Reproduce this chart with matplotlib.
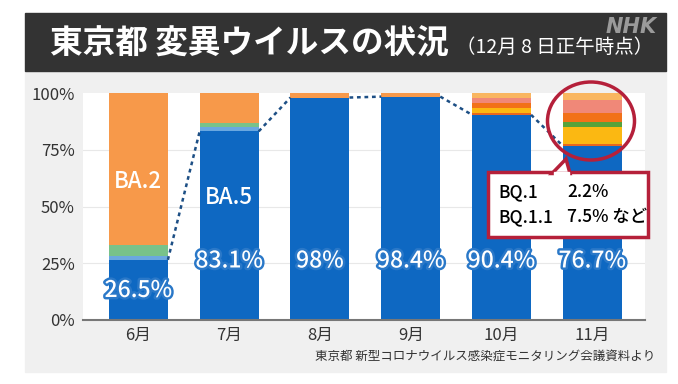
import numpy as np
import matplotlib.pyplot as plt
import matplotlib.patheffects as pe
from matplotlib.patches import Rectangle, Ellipse, Polygon

plt.rcParams['font.family'] = ['Noto Sans CJK JP', 'DejaVu Sans']

months = ["6月", "7月", "8月", "9月", "10月", "11月"]
ba5 = [26.5, 83.1, 98.0, 98.4, 90.4, 76.7]
ba5_labels = ["26.5%", "83.1%", "98%", "98.4%", "90.4%", "76.7%"]
# other lineages stacked above BA.5
light_blue = [1.5, 2.0, 0, 0, 0, 0]
green = [5.0, 1.5, 0, 0, 0, 0]
ba2 = [67.0, 13.4, 2.0, 1.6, 0, 0]
red_orange = [0, 0, 0, 0, 0.6, 0.8]
bq11 = [0, 0, 0, 0, 2.6, 7.5]
bq1 = [0, 0, 0, 0, 0, 2.2]
orange = [0, 0, 0, 0, 2.0, 4.0]
salmon = [0, 0, 0, 0, 2.0, 5.6]
light_orange = [0, 0, 0, 0, 2.4, 3.2]
yticks = [0, 25, 50, 75, 100]

W, H = 678, 384
fig = plt.figure(figsize=(W / 100, H / 100), dpi=100)
fig.patch.set_facecolor("white")

def px(x, y):                      # pixel coords (top-left origin) -> figure coords
    return x / W, 1 - y / H

# gray panel + dark title band
fig.patches.append(Rectangle(px(25, 372), (666 - 25) / W, (372 - 71) / H,
                             transform=fig.transFigure, color="#f0f0f0", zorder=-2))
fig.patches.append(Rectangle(px(25, 71), (666 - 25) / W, (71 - 13) / H,
                             transform=fig.transFigure, color="#333333", zorder=-2))

fig.text(*px(50, 44), "東京都 変異ウイルスの状況", color="white", fontsize=23.5,
         fontweight="bold", va="center", ha="left")
fig.text(*px(456, 47), "（12月 8 日正午時点）", color="white", fontsize=14,
         va="center", ha="left")
fig.text(*px(657, 27), "NHK", color="#9a9a9a", fontsize=15, fontweight="bold",
         fontstyle="italic", va="center", ha="right", family=["DejaVu Sans"])

ax = fig.add_axes([83 / W, 1 - 320 / H, (645 - 83) / W, (320 - 93) / H], zorder=1)
ax.set_facecolor("white")

x = np.arange(len(months))
w = 0.65
layers = [(ba5, "#0e68c2"), (light_blue, "#6aa8e0"), (green, "#78c28a"),
          (ba2, "#f7994a"), (red_orange, "#e8671e"), (bq11, "#fbb812"),
          (bq1, "#56a23a"), (orange, "#f27118"), (salmon, "#f08878"),
          (light_orange, "#f9b660")]
bottom = np.zeros(len(months))
for vals, col in layers:
    ax.bar(x, vals, w, bottom=bottom, color=col, zorder=2)
    bottom += np.array(vals)

# dotted connector between BA.5 tops
for i in range(len(months) - 1):
    ax.plot([x[i] + w / 2, x[i + 1] - w / 2], [ba5[i], ba5[i + 1]],
            ls=(0, (1.5, 1.5)), color="#1d4f85", lw=1.8, zorder=3)

stroke = [pe.withStroke(linewidth=3.5, foreground="#2a78c8")]
for i, lab in enumerate(ba5_labels):
    yy = 13 if i == 0 else 26
    ax.text(x[i], yy, lab, ha="center", va="center", color="white", fontsize=16.5,
            fontweight="medium", path_effects=stroke, zorder=5)
ax.text(x[0], 61, "BA.2", ha="center", va="center", color="white", fontsize=16,
        fontweight="medium", zorder=5)
ax.text(x[1], 54, "BA.5", ha="center", va="center", color="white", fontsize=16,
        fontweight="medium", zorder=5)

ax.set_xlim(-0.61, 5.58)
ax.set_ylim(0, 100)
ax.set_xticks(x)
ax.set_xticklabels(months, fontsize=12, color="#333333")
ax.set_yticks(yticks)
ax.set_yticklabels([f"{v}%" for v in yticks], fontsize=12, color="#333333")
ax.tick_params(length=0, pad=5)
ax.tick_params(axis="y", pad=6)
for v in [25, 50, 75]:
    ax.axhline(v, color="#e8e8e8", lw=0.8, zorder=1)
for s in ["top", "right", "left"]:
    ax.spines[s].set_visible(False)
ax.spines["bottom"].set_color("#777777")
ax.spines["bottom"].set_linewidth(1.5)

# callout for 11月
red = "#b5203a"
cx, cy = px(591, 121)
fig.patches.append(Ellipse((cx, cy), 87 / W, 78 / H, transform=fig.transFigure,
                           fill=False, edgecolor=red, lw=2.5, zorder=10))
fig.patches.append(Rectangle(px(488, 237), (648 - 488) / W, (237 - 172) / H,
                             transform=fig.transFigure, facecolor="white",
                             edgecolor=red, lw=2.5, zorder=10))
fig.patches.append(Polygon([px(552, 173.5), px(566, 159), px(570, 173.5)],
                           closed=True, transform=fig.transFigure, facecolor="white",
                           edgecolor=red, lw=2.5, zorder=11))
fig.patches.append(Rectangle(px(553.5, 175), (568.5 - 553.5) / W, 3 / H,
                             transform=fig.transFigure, color="white", zorder=12))
fig.text(*px(498, 192), "BQ.1", fontsize=12.5, fontweight="medium", va="center", ha="left", zorder=13)
fig.text(*px(567, 192), "2.2%", fontsize=12.5, fontweight="medium", va="center", ha="left", zorder=13)
fig.text(*px(498, 217), "BQ.1.1", fontsize=12.5, fontweight="medium", va="center", ha="left", zorder=13)
fig.text(*px(567, 217), "7.5% など", fontsize=12.5, fontweight="medium", va="center", ha="left", zorder=13)

fig.text(*px(655, 357), "東京都 新型コロナウイルス感染症モニタリング会議資料より",
         fontsize=9, color="#333333", va="center", ha="right")

fig.savefig("out.png", dpi=100)
